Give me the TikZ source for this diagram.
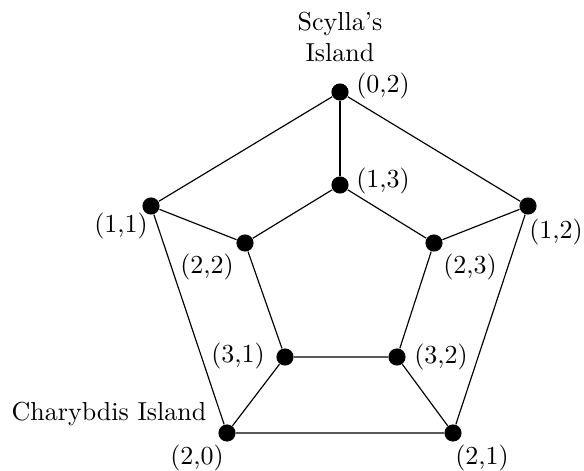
\documentclass[tikz,border=0pt]{standalone}
\begin{document}
\begin{tikzpicture}[x=0.3846pt,y=-0.3846pt,
  vtx/.style={circle,fill=black,inner sep=0pt,minimum size=6.6pt},
  lbl/.style={inner sep=0pt,anchor=center},
  edge/.style={draw=black,line width=0.45pt}]
\useasboundingbox (0,0) rectangle (584,470);
% outer
\node[vtx] (o02) at (340,92) {};
\node[vtx] (o11) at (151,206) {};
\node[vtx] (o12) at (528,206) {};
\node[vtx] (o20) at (227,433) {};
\node[vtx] (o21) at (453,433) {};
% inner
\node[vtx] (i13) at (340,185) {};
\node[vtx] (i22) at (245,243) {};
\node[vtx] (i23) at (434,243) {};
\node[vtx] (i31) at (285,357) {};
\node[vtx] (i32) at (397,357) {};
% edges
\draw[edge] (o02) -- (o11) -- (o20) -- (o21) -- (o12) -- (o02);
\draw[edge] (i13) -- (i22) -- (i31) -- (i32) -- (i23) -- (i13);
\draw[edge] (o02) -- (i13);
\draw[edge] (o11) -- (i22);
\draw[edge] (o12) -- (i23);
\draw[edge] (o20) -- (i31);
\draw[edge] (o21) -- (i32);
% labels
\node[lbl,align=center] (scy) at (340,37) {Scylla's\\Island};
\node[lbl] (l02) at (383,86) {(0,2)};
\node[lbl] (l13) at (383,181) {(1,3)};
\node[lbl] (l11) at (121,226) {(1,1)};
\node[lbl] (l12) at (556,232) {(1,2)};
\node[lbl] (l22) at (207,267) {(2,2)};
\node[lbl] (l23) at (470,267) {(2,3)};
\node[lbl] (l31) at (238,356) {(3,1)};
\node[lbl] (l32) at (441,357) {(3,2)};
\node[lbl] (cha) at (109,414) {Charybdis Island};
\node[lbl] (l20) at (197,458) {(2,0)};
\node[lbl] (l21) at (482,458) {(2,1)};
\end{tikzpicture}
\end{document}
